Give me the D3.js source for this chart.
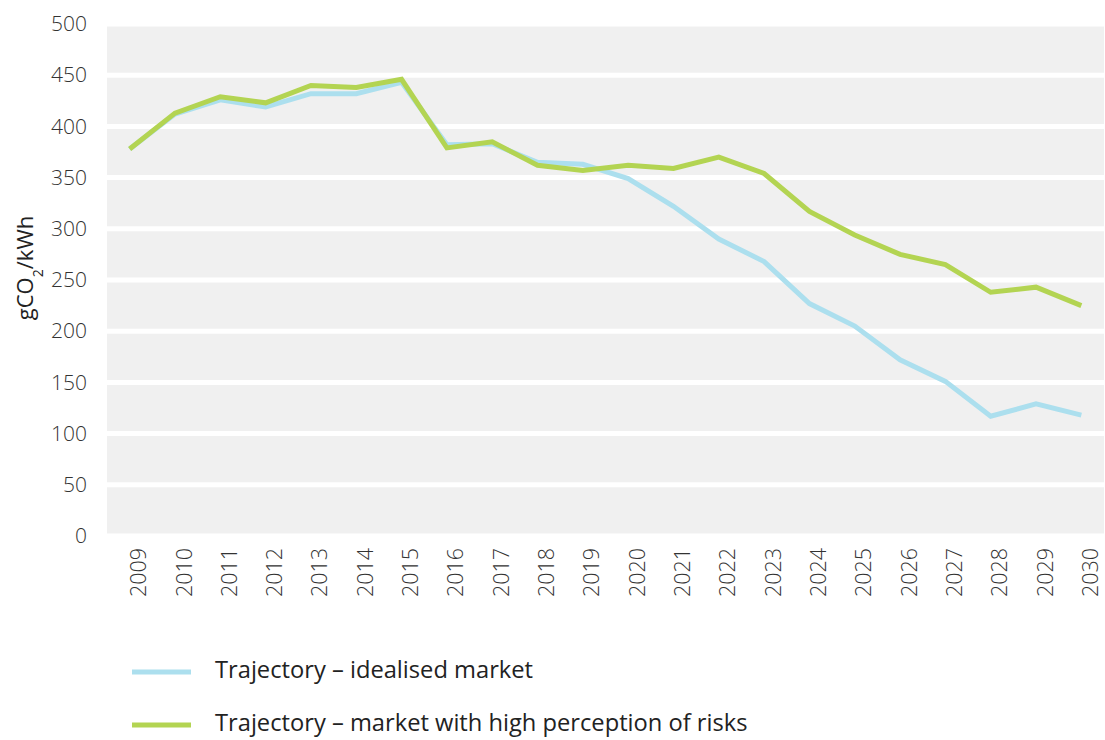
<!DOCTYPE html>
<html>
<head>
<meta charset="utf-8">
<script src="https://cdn.jsdelivr.net/npm/d3@7"></script>
<style>
  body { margin: 0; background: #fff; }
  text { font-family: 'Open Sans', sans-serif; }
</style>
</head>
<body>
<svg width="1105" height="740"></svg>
<script>
const years = ['2009', '2010', '2011', '2012', '2013', '2014', '2015', '2016', '2017', '2018', '2019',
  '2020', '2021', '2022', '2023', '2024', '2025', '2026', '2027', '2028', '2029', '2030']
const idealised = [378, 412, 426, 419, 432, 432, 443, 382, 383, 365, 363,
  349, 322, 290, 268, 227, 205, 172, 151, 117, 129, 118]
const highRisk = [378, 413, 429, 423, 440, 438, 446, 379, 385, 362, 357,
  362, 359, 370, 354, 317, 294, 275, 265, 238, 243, 225]
const seriesNames = ['Trajectory – idealised market', 'Trajectory – market with high perception of risks']
const colors = ['#acdfee', '#b3d452']

let svg = d3.select('svg')

const x = d3.scaleBand().domain(years).range([107, 1104])
const y = d3.scaleLinear().domain([0, 500]).range([536, 24])
const cx = d => x(d) + x.bandwidth() / 2

// grey plot background
svg.append('rect')
  .attr('x', x.range()[0])
  .attr('y', y(500))
  .attr('width', x.range()[1] - x.range()[0])
  .attr('height', y(0) - y(500))
  .attr('fill', '#f0f0f0')

// white gridlines
svg.append('g')
  .selectAll('line')
  .data(y.ticks(10))
  .enter()
  .append('line')
  .attr('x1', x.range()[0])
  .attr('x2', 1105)
  .attr('y1', d => y(d))
  .attr('y2', d => y(d))
  .attr('stroke', '#fff')
  .attr('stroke-width', 5)

// y axis
let yAxis = svg.append('g')
  .attr('transform', `translate(${x.range()[0]},0)`)
  .call(d3.axisLeft(y).ticks(10).tickSize(0).tickPadding(20))
yAxis.select('.domain').remove()
yAxis.selectAll('text')
  .attr('font-family', "'Open Sans', sans-serif")
  .attr('font-size', 21)
  .attr('font-weight', 300)
  .attr('fill', '#333')

svg.append('text')
  .attr('transform', 'translate(33,268) rotate(-90)')
  .attr('text-anchor', 'middle')
  .attr('font-size', 22)
  .attr('fill', '#222')
  .html('gCO<tspan baseline-shift="sub" font-size="14">2</tspan>/kWh')

// x axis
let xAxis = svg.append('g')
  .attr('transform', `translate(9,${y(0) + 12})`)
  .call(d3.axisBottom(x).tickSize(0).tickPadding(0))
xAxis.select('.domain').remove()
xAxis.selectAll('text')
  .attr('font-family', "'Open Sans', sans-serif")
  .attr('font-size', 21.5)
  .attr('font-weight', 300)
  .attr('fill', '#333')
  .attr('transform', 'rotate(-90)')
  .attr('text-anchor', 'end')
  .attr('x', 0)
  .attr('y', 0)
  .attr('dy', '0.35em')

// lines
const line = d3.line()
  .x((d, i) => cx(years[i]))
  .y(d => y(d))

;[idealised, highRisk].forEach((s, k) => {
  svg.append('path')
    .datum(s)
    .attr('d', line)
    .attr('fill', 'none')
    .attr('stroke', colors[k])
    .attr('stroke-width', 5)
    .attr('stroke-linejoin', 'miter')
})

// legend
let legend = svg.append('g')
legend.selectAll('line')
  .data(seriesNames)
  .enter()
  .append('line')
  .attr('x1', 132)
  .attr('x2', 191)
  .attr('y1', (d, i) => 672 + i * 53)
  .attr('y2', (d, i) => 672 + i * 53)
  .attr('stroke', (d, i) => colors[i])
  .attr('stroke-width', 5)

legend.selectAll('text')
  .data(seriesNames)
  .enter()
  .append('text')
  .attr('x', 215)
  .attr('y', (d, i) => 670 + i * 53)
  .attr('dy', '0.35em')
  .attr('font-size', 23.7)
  .attr('fill', '#222')
  .text(d => d)
</script>
</body>
</html>
